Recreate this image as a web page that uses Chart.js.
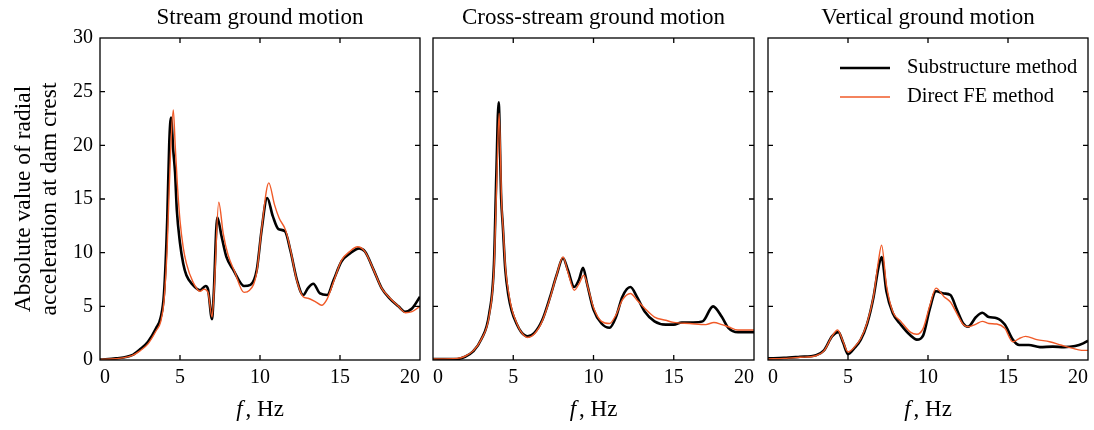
<!DOCTYPE html>
<html>
<head>
<meta charset="utf-8">
<script src="https://cdn.jsdelivr.net/npm/chart.js@4/dist/chart.umd.min.js"></script>
<style>
  html, body { margin: 0; padding: 0; background: #fff; }
  #wrap { position: relative; width: 1094px; height: 430px; }
  #wrap canvas { position: absolute; left: 0; top: 0; }
</style>
</head>
<body>
<div id="wrap">
  <canvas id="c1" width="1094" height="430"></canvas>
  <canvas id="c2" width="1094" height="430"></canvas>
  <canvas id="c3" width="1094" height="430"></canvas>
</div>
<script>
// ---------- data ----------
const panelTitles = ["Stream ground motion", "Cross-stream ground motion", "Vertical ground motion"];
const seriesNames = ["Substructure method", "Direct FE method"];
const xTicks = [0, 5, 10, 15, 20];
const yTicks = [0, 5, 10, 15, 20, 25, 30];
const yTitleLines = ["Absolute value of radial", "acceleration at dam crest"];
const xTitleItalic = "f";
const xTitleRest = ", Hz";

// Stream ground motion
const streamSubF = [0,1,2,2.5,3,3.5,3.8,4.0,4.2,4.33,4.44,4.58,4.69,4.8,5.0,5.2,5.4,5.8,6.25,6.6,6.75,7.0,7.1,7.33,7.6,7.9,8.33,9.0,9.4,9.8,10.1,10.45,10.8,11.15,11.56,11.9,12.3,12.7,13.0,13.33,13.75,14.2,14.6,15.1,15.6,16.2,16.56,17.1,17.6,18.1,18.65,19.06,19.5,20];
const streamSubV = [0.05,0.15,0.45,1.0,1.7,2.95,4.0,6.2,13.0,20.3,22.6,19.5,17.5,14.0,10.9,9.0,7.9,7.0,6.5,6.9,6.6,3.8,5.9,13.3,11.5,9.6,8.4,6.9,7.0,8.4,12.1,15.1,13.4,12.2,12.0,10.2,7.5,6.05,6.7,7.1,6.2,6.05,7.45,9.2,9.9,10.4,10.1,8.4,6.7,5.75,5.0,4.5,4.8,5.9];
const streamFEF = [0,1,2,2.5,3,3.5,3.8,4.0,4.2,4.4,4.58,4.7,4.85,5.0,5.2,5.4,5.8,6.25,6.5,6.75,7.0,7.15,7.42,7.7,8.0,8.4,9.0,9.35,9.8,10.1,10.55,10.9,11.2,11.6,11.9,12.3,12.7,13.0,13.5,13.85,14.2,14.6,15.1,15.6,16.1,16.56,17.1,17.6,18.1,18.65,19.1,19.5,20];
const streamFEV = [0.05,0.12,0.4,0.85,1.5,2.7,3.6,5.5,10.5,19.0,23.3,20.0,16.0,13.0,10.5,9.0,7.3,6.4,6.6,6.3,4.0,7.0,14.7,11.8,9.8,8.3,6.3,6.5,8.2,12.2,16.5,14.5,13.2,12.1,10.3,7.4,5.9,5.75,5.4,5.1,5.7,7.3,9.3,10.1,10.55,10.1,8.4,6.7,5.8,5.0,4.4,4.5,5.0];

// Cross-stream ground motion
const crossSubF = [0,1.5,2,2.5,3,3.5,3.8,3.95,4.09,4.25,4.35,4.5,4.7,4.9,5.2,5.5,5.9,6.3,6.8,7.3,7.7,8.1,8.4,8.8,9.1,9.35,9.6,10.0,10.5,11.0,11.4,11.8,12.3,12.7,13.2,13.8,14.5,15,15.5,16.2,16.8,17.45,18.0,18.4,19,20];
const crossSubV = [0.1,0.1,0.3,0.8,1.9,4.3,9,17.5,24,15,12.5,8.5,6.0,4.6,3.4,2.6,2.2,2.5,3.7,5.9,7.9,9.5,8.4,6.8,7.5,8.6,7.1,4.7,3.4,3.0,4.0,5.9,6.8,5.9,4.5,3.6,3.3,3.3,3.5,3.5,3.6,5.0,4.0,3.0,2.6,2.6];
const crossFEF = [0,1.5,2,2.5,3,3.5,3.8,3.97,4.12,4.28,4.38,4.52,4.72,4.9,5.2,5.5,5.9,6.3,6.8,7.3,7.7,8.1,8.4,8.8,9.1,9.4,9.7,10.0,10.5,11.0,11.4,11.8,12.3,12.7,13.2,13.8,14.5,15,16,17,17.5,18,18.4,19,20];
const crossFEV = [0.1,0.15,0.35,0.85,1.9,4.1,8.5,16.5,23,14.5,12,8.5,6.2,4.8,3.5,2.6,2.1,2.4,3.6,5.8,7.9,9.6,8.2,6.5,7.1,7.9,6.5,4.9,3.6,3.4,4.2,5.6,6.2,5.6,4.8,4.0,3.7,3.5,3.4,3.3,3.5,3.3,3.1,2.8,2.8];

// Vertical ground motion
const vertSubF = [0,1,2,3,3.5,4,4.4,4.7,5.0,5.4,5.8,6.2,6.6,6.9,7.1,7.4,7.8,8.3,8.9,9.3,9.7,10.1,10.5,11,11.4,11.8,12.2,12.5,13,13.4,13.8,14.3,14.8,15.3,15.7,16.3,17,17.8,18.5,19.2,19.7,20];
const vertSubV = [0.15,0.2,0.3,0.45,0.9,2.2,2.6,1.6,0.55,1.1,1.9,3.4,5.9,8.6,9.6,6.4,4.35,3.3,2.3,1.9,2.3,4.7,6.4,6.2,6.05,4.7,3.4,3.1,4.0,4.4,4.0,3.9,3.3,1.9,1.4,1.4,1.2,1.25,1.2,1.3,1.55,1.8];
const vertFEF = [0,1,2,3,3.5,4,4.35,4.7,5.0,5.4,5.8,6.2,6.6,6.9,7.1,7.4,7.8,8.3,8.9,9.3,9.7,10.1,10.5,11,11.4,11.8,12.2,12.5,13,13.4,13.8,14.3,14.8,15.3,15.7,16.1,16.8,17.6,18.3,19,19.6,20];
const vertFEV = [0.1,0.15,0.25,0.4,0.85,2.2,2.8,1.7,0.75,1.2,2.0,3.5,6.0,9.2,10.7,7.0,4.5,3.6,2.6,2.4,2.95,5.0,6.7,5.9,5.4,4.35,3.3,3.1,3.35,3.6,3.4,3.35,2.95,1.7,2.0,2.2,1.9,1.7,1.4,1.1,0.9,0.9];

// ---------- styling ----------
const SERIF = '"Liberation Serif", "Times New Roman", Times, serif';
const BLACK = '#000000';
const ORANGE = '#f05a28';
const X_MIN = 0, X_MAX = 20, Y_MIN = 0, Y_MAX = 30;

function pts(fs, vs) { return fs.map((f, i) => ({ x: f, y: vs[i] })); }

const framePlugin = {
  id: 'frame',
  afterDatasetsDraw(chart) {
    const { ctx, chartArea: a, scales } = chart;
    const xs = scales.x, ys = scales.y;
    ctx.save();
    ctx.strokeStyle = '#000';
    ctx.lineWidth = 1.3;
    ctx.strokeRect(a.left, a.top, a.right - a.left, a.bottom - a.top);
    const L = 5;
    ctx.beginPath();
    xTicks.slice(1, -1).forEach(v => {
      const px = xs.getPixelForValue(v);
      ctx.moveTo(px, a.bottom); ctx.lineTo(px, a.bottom - L);
      ctx.moveTo(px, a.top); ctx.lineTo(px, a.top + L);
    });
    yTicks.slice(1, -1).forEach(v => {
      const py = ys.getPixelForValue(v);
      ctx.moveTo(a.left, py); ctx.lineTo(a.left + L, py);
      ctx.moveTo(a.right, py); ctx.lineTo(a.right - L, py);
    });
    ctx.stroke();
    // x-axis title with italic f
    ctx.fillStyle = '#000';
    ctx.textBaseline = 'middle';
    const fontI = 'italic 23px ' + SERIF;
    const fontN = '23px ' + SERIF;
    ctx.font = fontI; const w1 = ctx.measureText(xTitleItalic).width;
    ctx.font = fontN; const w2 = ctx.measureText(xTitleRest).width;
    const gap = 3;
    const cx = (a.left + a.right) / 2;
    const x0 = cx - (w1 + w2 + gap) / 2;
    ctx.font = fontI; ctx.textAlign = 'left'; ctx.fillText(xTitleItalic, x0, 410);
    ctx.font = fontN; ctx.fillText(xTitleRest, x0 + w1 + gap, 410);
    ctx.restore();
  }
};

const legendPlugin = {
  id: 'innerLegend',
  afterDraw(chart) {
    if (!chart.options.plugins.innerLegend || !chart.options.plugins.innerLegend.show) return;
    const { ctx } = chart;
    ctx.save();
    const items = [
      { label: seriesNames[0], color: BLACK, w: 2.6, y: 68 },
      { label: seriesNames[1], color: ORANGE, w: 1.4, y: 97 }
    ];
    items.forEach(it => {
      ctx.strokeStyle = it.color; ctx.lineWidth = it.w;
      ctx.beginPath(); ctx.moveTo(840, it.y); ctx.lineTo(890, it.y); ctx.stroke();
      ctx.fillStyle = '#000'; ctx.font = '20.5px ' + SERIF;
      ctx.textAlign = 'left'; ctx.textBaseline = 'middle';
      ctx.fillText(it.label, 907, it.y);
    });
    ctx.restore();
  }
};

function makeChart(id, idx, sub, fe, padL, padR, showY, showLegend) {
  const ctx = document.getElementById(id);
  return new Chart(ctx, {
    type: 'line',
    data: {
      datasets: [
        { label: seriesNames[1], data: fe, borderColor: ORANGE, borderWidth: 1.4, pointRadius: 0, cubicInterpolationMode: 'monotone', fill: false },
        { label: seriesNames[0], data: sub, borderColor: BLACK, borderWidth: 2.6, pointRadius: 0, cubicInterpolationMode: 'monotone', fill: false }
      ]
    },
    options: {
      responsive: false,
      animation: false,
      devicePixelRatio: 1,
      layout: { padding: { left: padL, right: padR, top: 0, bottom: 0 } },
      plugins: {
        legend: { display: false },
        tooltip: { enabled: false },
        innerLegend: { show: showLegend },
        title: {
          display: true, text: panelTitles[idx], color: '#000', fullSize: false,
          font: { family: SERIF, size: 23, weight: 'normal', lineHeight: 1.2 },
          padding: { top: 4, bottom: 6.4 }
        }
      },
      scales: {
        x: {
          type: 'linear', min: X_MIN, max: X_MAX,
          afterBuildTicks: s => { s.ticks = xTicks.map(v => ({ value: v })); },
          afterFit: s => { s.height = 70; },
          grid: { display: false, drawTicks: false },
          border: { display: false },
          ticks: { color: '#000', align: 'inner', padding: 6, maxRotation: 0, autoSkip: false,
                   font: { family: SERIF, size: 20 } }
        },
        y: {
          type: 'linear', min: Y_MIN, max: Y_MAX, display: showY,
          afterBuildTicks: s => { s.ticks = yTicks.map(v => ({ value: v })); },
          afterFit: s => { s.width = showY ? 100 : 0; },
          grid: { display: false, drawTicks: false },
          border: { display: false },
          ticks: { color: '#000', padding: 7, autoSkip: false, font: { family: SERIF, size: 20 } },
          title: { display: showY, text: yTitleLines, color: '#000',
                   font: { family: SERIF, size: 23.5, lineHeight: 1.1 }, padding: { top: 11, bottom: 0 } }
        }
      }
    },
    plugins: [framePlugin, legendPlugin]
  });
}

makeChart('c1', 0, pts(streamSubF, streamSubV), pts(streamFEF, streamFEV), 0, 674, true, false);
makeChart('c2', 1, pts(crossSubF, crossSubV), pts(crossFEF, crossFEV), 433, 340, false, false);
makeChart('c3', 2, pts(vertSubF, vertSubV), pts(vertFEF, vertFEV), 768, 6, false, true);
</script>
</body>
</html>
